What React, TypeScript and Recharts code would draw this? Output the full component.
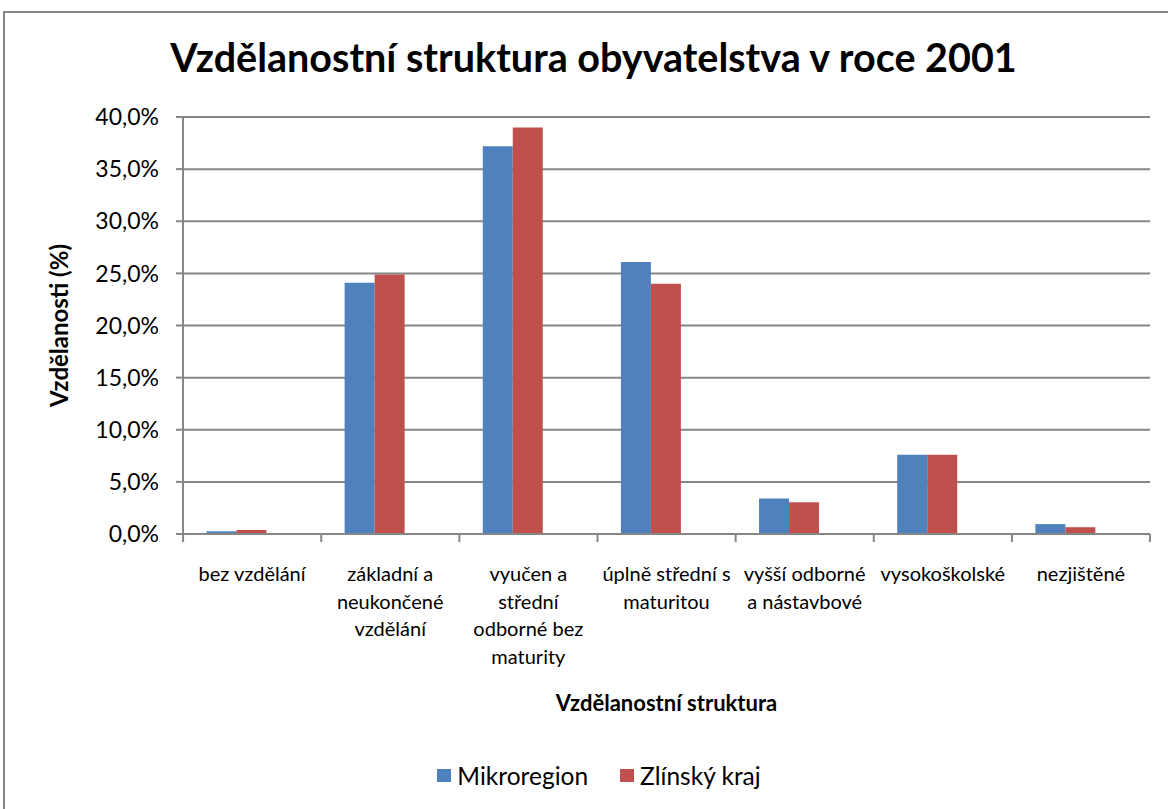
import { Bar, BarChart, CartesianGrid, Label, Legend, XAxis, YAxis } from "recharts"

const categories = [
  "bez vzdělání",
  "základní a neukončené vzdělání",
  "vyučen a střední odborné bez maturity",
  "úplně střední s maturitou",
  "vyšší odborné a nástavbové",
  "vysokoškolské",
  "nezjištěné",
]

// how the category labels wrap under the axis
const categoryLines = [
  ["bez vzdělání"],
  ["základní a", "neukončené", "vzdělání"],
  ["vyučen a", "střední", "odborné bez", "maturity"],
  ["úplně střední s", "maturitou"],
  ["vyšší odborné", "a nástavbové"],
  ["vysokoškolské"],
  ["nezjištěné"],
]

const mikroregion = [0.26, 24.1, 37.2, 26.1, 3.4, 7.6, 0.95]
const zlinskyKraj = [0.38, 24.9, 39.0, 24.0, 3.05, 7.6, 0.65]

const yTicks = [0, 5, 10, 15, 20, 25, 30, 35, 40]

const data = categories.map((name, i) => ({
  name,
  mikroregion: mikroregion[i],
  zlinsky: zlinskyKraj[i],
}))

const font = "Lato, 'Noto Sans', sans-serif"
const gray = "#868686"
const halfBand = 69

const fmt = (v: number) => `${v.toFixed(1).replace(".", ",")}%`

function CategoryTick(props: any) {
  const { x, y, index } = props
  const lines: string[] = categoryLines[index] || []
  return (
    <g>
      <line x1={x - halfBand} x2={x - halfBand} y1={y} y2={y + 8} stroke={gray} strokeWidth={2} />
      {index === categories.length - 1 && (
        <line x1={x + halfBand} x2={x + halfBand} y1={y} y2={y + 8} stroke={gray} strokeWidth={2} />
      )}
      <text x={x} y={y + 47} textAnchor="middle" fontSize={20} fill="#000" fontFamily={font}>
        {lines.map((l, i) => (
          <tspan key={i} x={x} dy={i === 0 ? 0 : 27.5}>
            {l}
          </tspan>
        ))}
      </text>
    </g>
  )
}

function LegendContent() {
  const items = [
    { label: "Mikroregion", color: "#4F81BD" },
    { label: "Zlínský kraj", color: "#C0504D" },
  ]
  return (
    <div style={{ display: "flex", justifyContent: "center", gap: 32, height: 40, alignItems: "center", fontFamily: font, fontSize: 24.5, color: "#000", paddingLeft: 48 }}>
      {items.map((it) => (
        <div key={it.label} style={{ display: "flex", alignItems: "center", gap: 6 }}>
          <span style={{ width: 14, height: 13, background: it.color, display: "inline-block" }} />
          <span>{it.label}</span>
        </div>
      ))}
    </div>
  )
}

export default function App() {
  return (
    <div style={{ position: "fixed", left: 0, top: 0, width: 1168, height: 809, overflow: "hidden", background: "#fff" }}>
      <div style={{ position: "absolute", left: 3, top: 11, width: 1200, height: 900, border: `2px solid ${gray}` }} />
      <div
        style={{
          position: "absolute",
          left: 0,
          top: 33,
          width: 1187,
          textAlign: "center",
          fontFamily: font,
          fontWeight: 700,
          fontSize: 39.5,
          color: "#000",
        }}
      >
        Vzdělanostní struktura obyvatelstva v roce 2001
      </div>
      <div style={{ position: "absolute", left: 0, top: 0 }}>
        <BarChart
          width={1168}
          height={809}
          data={data}
          margin={{ top: 117, right: 18, left: 0, bottom: 14 }}
          barCategoryGap="17%"
          barGap={0}
        >
          <CartesianGrid vertical={false} stroke={gray} strokeWidth={2} />
          <XAxis
            dataKey="name"
            height={221}
            interval={0}
            tickLine={false}
            tickSize={0}
            tickMargin={0}
            axisLine={{ stroke: gray, strokeWidth: 2 }}
            tick={<CategoryTick />}
          >
            <Label
              value="Vzdělanostní struktura"
              position="insideBottom"
              offset={44}
              style={{ fontFamily: font, fontWeight: 700, fontSize: 22, fill: "#000" }}
            />
          </XAxis>
          <YAxis
            width={183}
            domain={[0, 40]}
            ticks={yTicks}
            tickFormatter={fmt}
            tickSize={7}
            tickMargin={17}
            tickLine={{ stroke: gray, strokeWidth: 2 }}
            axisLine={{ stroke: gray, strokeWidth: 2 }}
            tick={{ fontFamily: font, fontSize: 23, fill: "#000" }}
          >
            <Label
              content={({ viewBox }: any) => {
                const cy = viewBox.y + viewBox.height / 2
                return (
                  <text
                    x={68}
                    y={cy}
                    transform={`rotate(-90, 68, ${cy})`}
                    textAnchor="middle"
                    fontFamily={font}
                    fontWeight={700}
                    fontSize={24}
                    fill="#000"
                  >
                    Vzdělanosti (%)
                  </text>
                )
              }}
            />
          </YAxis>
          <Legend verticalAlign="bottom" content={<LegendContent />} />
          <Bar dataKey="mikroregion" name="Mikroregion" fill="#4F81BD" isAnimationActive={false} />
          <Bar dataKey="zlinsky" name="Zlínský kraj" fill="#C0504D" isAnimationActive={false} />
          {/* the source chart keeps a third, empty series slot, so the pairs sit left of centre */}
          <Bar dataKey="empty" legendType="none" fill="none" isAnimationActive={false} />
        </BarChart>
      </div>
    </div>
  )
}
